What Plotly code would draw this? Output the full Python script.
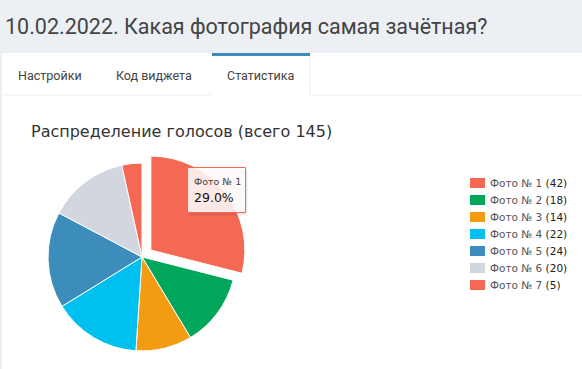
import plotly.graph_objects as go

W, H = 582, 369

page_title = "10.02.2022. Какая фотография самая зачётная?"
tabs = ["Настройки", "Код виджета", "Статистика"]
chart_title = "Распределение голосов"
labels = ["Фото № 1", "Фото № 2", "Фото № 3", "Фото № 4", "Фото № 5", "Фото № 6", "Фото № 7"]
votes = [42, 18, 14, 22, 24, 20, 5]
colors = ["#f56954", "#00a65a", "#f39c12", "#00c0ef", "#3c8dbc", "#d2d6de", "#f56954"]
pulls = [0.12, 0, 0, 0, 0, 0, 0]
highlight = 0

total = sum(votes)


def X(px):
    return px / W


def Y(py):
    return 1 - py / H


# pie geometry (pixels)
cx, cy, r = 142, 257, 94
half = r * (1 + max(pulls))

fig = go.Figure()
fig.add_trace(go.Pie(
    labels=labels,
    values=votes,
    sort=False,
    direction="clockwise",
    rotation=0,
    pull=pulls,
    marker=dict(colors=colors, line=dict(color="white", width=1)),
    textinfo="none",
    hoverinfo="label+percent",
    showlegend=False,
    domain=dict(x=[X(cx - half), X(cx + half)], y=[Y(cy + half), Y(cy - half)]),
))

shapes = []
# white panel
shapes.append(dict(type="rect", xref="paper", yref="paper", x0=X(2), x1=X(W + 5), y0=Y(H + 5), y1=Y(53),
                   fillcolor="white", line=dict(width=0), layer="below"))
# tab bar bottom border
shapes.append(dict(type="line", xref="paper", yref="paper", x0=X(2), x1=X(W), y0=Y(95), y1=Y(95),
                   line=dict(color="#f0f0f0", width=1), layer="below"))
# active tab
shapes.append(dict(type="rect", xref="paper", yref="paper", x0=X(212), x1=X(310), y0=Y(96), y1=Y(53),
                   fillcolor="white", line=dict(width=0), layer="below"))
shapes.append(dict(type="line", xref="paper", yref="paper", x0=X(310), x1=X(310), y0=Y(96), y1=Y(54),
                   line=dict(color="#f0f0f0", width=1), layer="below"))
shapes.append(dict(type="line", xref="paper", yref="paper", x0=X(212), x1=X(310), y0=Y(54.5), y1=Y(54.5),
                   line=dict(color="#3c8dbc", width=3), layer="below"))

annotations = []
annotations.append(dict(xref="paper", yref="paper", x=X(3), y=Y(27), xanchor="left", yanchor="middle",
                        text=page_title, showarrow=False,
                        font=dict(family="Roboto", size=21.5, color="#444")))
tab_x = [50, 154, 261]
for t, tx in zip(tabs, tab_x):
    annotations.append(dict(xref="paper", yref="paper", x=X(tx), y=Y(75), xanchor="center", yanchor="middle",
                            text=t, showarrow=False,
                            font=dict(family="Roboto", size=12.5, color="#444")))
annotations.append(dict(xref="paper", yref="paper", x=X(29), y=Y(131), xanchor="left", yanchor="middle",
                        text=f"{chart_title} (всего {total})", showarrow=False,
                        font=dict(family="DejaVu Sans", size=16, color="#333")))

# legend
leg_x, leg_y0, leg_dy = 470, 183, 17
for i, (lab, v, c) in enumerate(zip(labels, votes, colors)):
    yy = leg_y0 + i * leg_dy
    shapes.append(dict(type="rect", xref="paper", yref="paper", x0=X(leg_x), x1=X(leg_x + 15),
                       y0=Y(yy + 5), y1=Y(yy - 5), fillcolor=c, line=dict(width=0)))
    annotations.append(dict(xref="paper", yref="paper", x=X(leg_x + 18), y=Y(yy), xanchor="left",
                            yanchor="middle", text=f"<span style='color:#555'>{lab}</span> ({v})",
                            showarrow=False, font=dict(family="DejaVu Sans", size=10.5, color="#222")))

# tooltip box
shapes.append(dict(type="rect", xref="paper", yref="paper", x0=X(189.5), x1=X(247.5), y0=Y(215.5), y1=Y(169.5),
                   fillcolor="rgba(0,0,0,0.08)", line=dict(width=0)))
shapes.append(dict(type="rect", xref="paper", yref="paper", x0=X(187.5), x1=X(245.5), y0=Y(212.5), y1=Y(167.5),
                   fillcolor="rgba(255,250,250,0.88)", line=dict(color=colors[highlight], width=1)))
pct = votes[highlight] / total * 100
annotations.append(dict(xref="paper", yref="paper", x=X(192), y=Y(181), xanchor="left", yanchor="middle",
                        text=labels[highlight], showarrow=False,
                        font=dict(family="DejaVu Sans", size=9.5, color="#444")))
annotations.append(dict(xref="paper", yref="paper", x=X(192), y=Y(197), xanchor="left", yanchor="middle",
                        text=f"{pct:.1f}%", showarrow=False,
                        font=dict(family="DejaVu Sans", size=12.5, color="#111")))

fig.update_layout(
    width=W, height=H,
    margin=dict(l=0, r=0, t=0, b=0),
    paper_bgcolor="#ecf0f5",
    plot_bgcolor="white",
    shapes=shapes,
    annotations=annotations,
    xaxis=dict(visible=False), yaxis=dict(visible=False),
)

fig.write_html("out.html", config={"displayModeBar": False},
               post_script="document.body.style.margin='0';document.body.style.overflow='hidden';")
